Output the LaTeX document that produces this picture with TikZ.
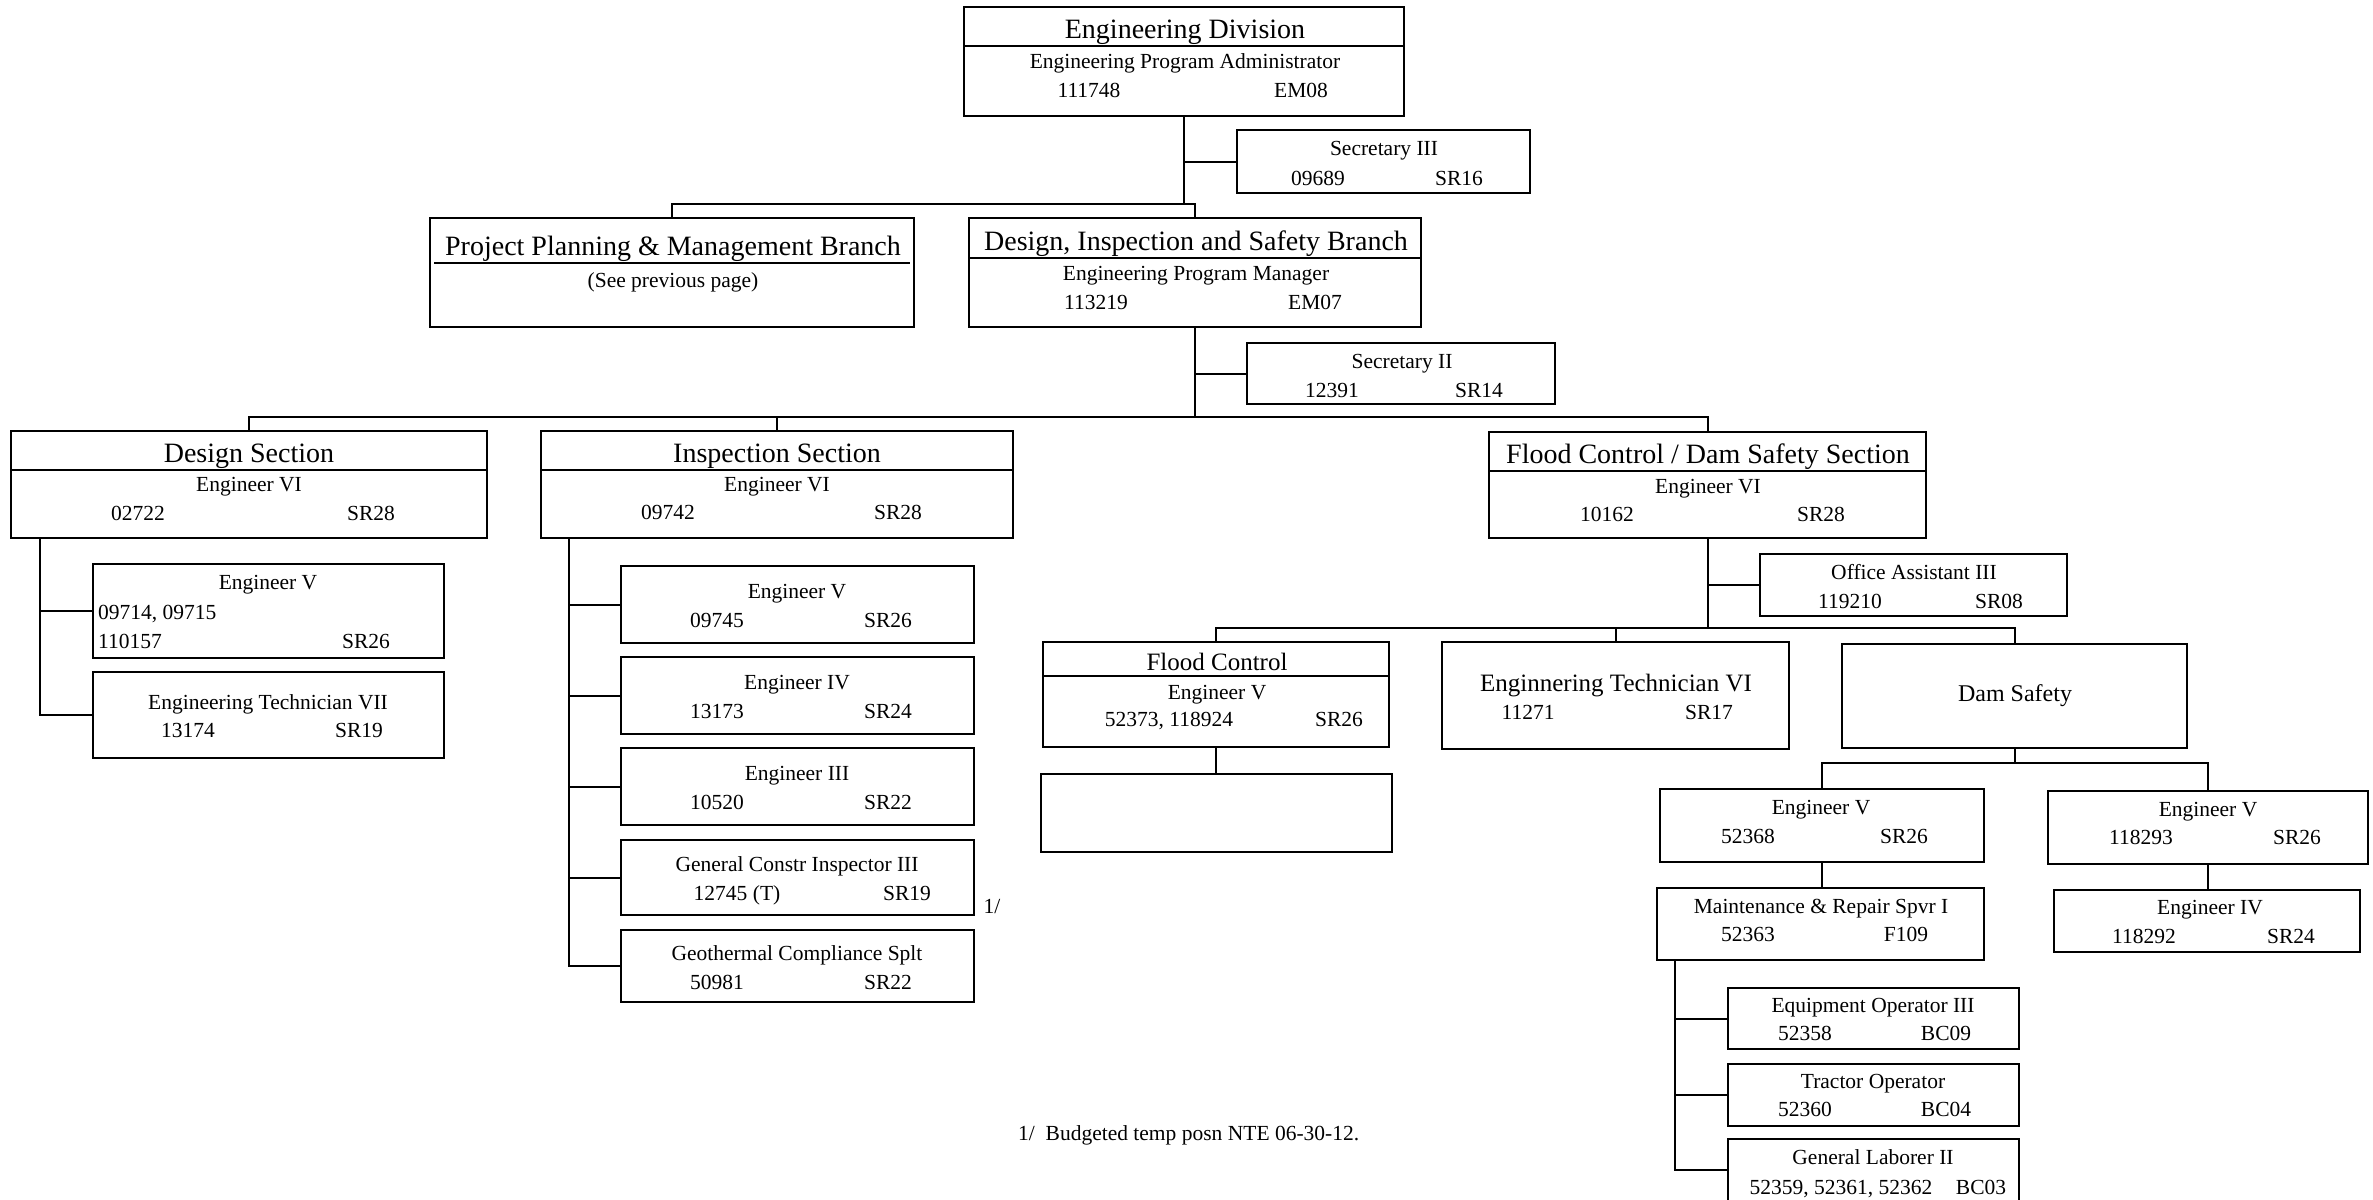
\documentclass[tikz,border=0pt]{standalone}
\usepackage{fontspec}
\setmainfont{Liberation Serif}
\tikzset{
  box/.style={draw, line width=2pt, rectangle, inner sep=0pt, outer sep=0pt},
  conn/.style={line width=2pt},
  ttl/.style={font=\fontsize{28}{30}\selectfont, anchor=base, inner sep=0pt},
  mt/.style={font=\fontsize{25}{27}\selectfont, anchor=base, inner sep=0pt},
  dt/.style={font=\fontsize{24}{26}\selectfont, anchor=base, inner sep=0pt},
  bt/.style={font=\fontsize{21.5}{23}\selectfont, anchor=base, inner sep=0pt},
  btl/.style={bt, anchor=base west},
}
\newcommand\bx[5]{%
  \pgfmathsetmacro\bxw{#4-#2}\pgfmathsetmacro\bxh{#5-#3}%
  \node[box, minimum width=\bxw pt, minimum height=\bxh pt] (#1) at ({(#2+#4)/2},{(#3+#5)/2}) {};}
\newcommand\divl[2]{\draw[conn] (#1.west |- 0,#2) -- (#1.east |- 0,#2);}
\begin{document}
\begin{tikzpicture}[x=1pt,y=-1pt]
\useasboundingbox (0,0) rectangle (2373,1199);
\clip (0,0) rectangle (2373,1199);
\fill[white] (0,0) rectangle (2373,1199);

% ---------- boxes ----------
\bx{ed}{964}{7}{1404}{116}
\bx{sec3}{1237}{130}{1530}{193}
\bx{ppmb}{430}{218}{914}{327}
\bx{disb}{969}{218}{1421}{327}
\bx{sec2}{1247}{343}{1555}{404}
\bx{des}{11}{431}{487}{538}
\bx{insp}{541}{431}{1013}{538}
\bx{fcds}{1489}{432}{1926}{538}
\bx{desv}{93}{564}{444}{658}
\bx{dest}{93}{672}{444}{758}
\bx{ia}{621}{566}{974}{643}
\bx{ib}{621}{657}{974}{734}
\bx{ic}{621}{748}{974}{825}
\bx{id}{621}{840}{974}{915}
\bx{ie}{621}{930}{974}{1002}
\bx{oa}{1760}{554}{2067}{616}
\bx{fc}{1043}{642}{1389}{747}
\bx{fce}{1041}{774}{1392}{852}
\bx{etvi}{1442}{642}{1789}{749}
\bx{ds}{1842}{644}{2187}{748}
\bx{eva}{1660}{789}{1984}{862}
\bx{evb}{2048}{791}{2368}{864}
\bx{efour}{2054}{890}{2360}{952}
\bx{mr}{1657}{888}{1984}{960}
\bx{eq}{1728}{988}{2019}{1049}
\bx{tr}{1728}{1064}{2019}{1126}
\bx{gl}{1728}{1139}{2019}{1201}

% ---------- dividers ----------
\divl{ed}{46}
\divl{disb}{258}
\divl{des}{470}
\divl{insp}{470}
\divl{fcds}{471}
\divl{fc}{676}
\draw[conn] ([xshift=4pt]ppmb.west |- 0,263) -- ([xshift=-4pt]ppmb.east |- 0,263);

% ---------- connectors ----------
\coordinate (busA) at (1185,204);
\draw[conn] (ed.south) -- (ed.south |- busA);
\draw[conn] (sec3.west) -- (sec3.west -| ed.south);
\draw[conn] (ppmb.north) -- (ppmb.north |- busA) -- (disb.north |- busA) -- (disb.north);

\coordinate (busB) at (1195,417);
\draw[conn] (disb.south) -- (disb.south |- busB);
\draw[conn] (sec2.west) -- (sec2.west -| disb.south);
\draw[conn] (des.north) -- (des.north |- busB) -- (fcds.north |- busB) -- (fcds.north);
\draw[conn] (insp.north) -- (insp.north |- busB);

\coordinate (dv) at (40,0);
\draw[conn] (des.south -| dv) -- (dest.west -| dv) -- (dest.west);
\draw[conn] (desv.west -| dv) -- (desv.west);

\coordinate (iv) at (569,0);
\draw[conn] (insp.south -| iv) -- (ie.west -| iv) -- (ie.west);
\foreach \n in {ia,ib,ic,id} { \draw[conn] (\n.west -| iv) -- (\n.west); }

\coordinate (busC) at (1707,628);
\draw[conn] (fcds.south) -- (fcds.south |- busC);
\draw[conn] (oa.west) -- (oa.west -| fcds.south);
\draw[conn] (fc.north) -- (fc.north |- busC) -- (ds.north |- busC) -- (ds.north);
\draw[conn] (etvi.north) -- (etvi.north |- busC);
\draw[conn] (fc.south) -- (fc.south |- fce.north);

\coordinate (busD) at (2015,763);
\draw[conn] (ds.south) -- (ds.south |- busD);
\draw[conn] (eva.north) -- (eva.north |- busD) -- (evb.north |- busD) -- (evb.north);
\draw[conn] (eva.south) -- (eva.south |- mr.north);
\draw[conn] (evb.south) -- (evb.south |- efour.north);

\coordinate (mv) at (1675,0);
\draw[conn] (mr.south -| mv) -- (gl.west -| mv) -- (gl.west);
\draw[conn] (eq.west -| mv) -- (eq.west);
\draw[conn] (tr.west -| mv) -- (tr.west);

% ---------- texts ----------
\node[ttl] (edT) at (1185,38) {Engineering Division};
\node[bt] (edA) at (1185,68) {Engineering Program Administrator};
\node[bt] (edN) at (1089,97) {111748};
\node[bt] (edG) at (1301,97) {EM08};

\node[bt] (s3A) at (1384,155) {Secretary III};
\node[bt] (s3N) at (1318,185) {09689};
\node[bt] (s3G) at (1459,185) {SR16};

\node[ttl] (ppT) at (673,255) {Project Planning \& Management Branch};
\node[bt] (ppA) at (673,287) {(See previous page)};

\node[ttl] (diT) at (1196,250) {Design, Inspection and Safety Branch};
\node[bt] (diA) at (1196,280) {Engineering Program Manager};
\node[bt] (diN) at (1096,309) {113219};
\node[bt] (diG) at (1315,309) {EM07};

\node[bt] (s2A) at (1402,368) {Secretary II};
\node[bt] (s2N) at (1332,397) {12391};
\node[bt] (s2G) at (1479,397) {SR14};

\node[ttl] (deT) at (249,462) {Design Section};
\node[bt] (deA) at (249,491) {Engineer VI};
\node[bt] (deN) at (138,520) {02722};
\node[bt] (deG) at (371,520) {SR28};

\node[bt] (dvA) at (268,589) {Engineer V};
\node[btl] (dvN) at (98,619) {09714, 09715};
\node[btl] (dvM) at (98,648) {110157};
\node[bt] (dvG) at (366,648) {SR26};

\node[bt] (dtA) at (268,709) {Engineering Technician VII};
\node[bt] (dtN) at (188,737) {13174};
\node[bt] (dtG) at (359,737) {SR19};

\node[ttl] (inT) at (777,462) {Inspection Section};
\node[bt] (inA) at (777,491) {Engineer VI};
\node[bt] (inN) at (668,519) {09742};
\node[bt] (inG) at (898,519) {SR28};

\node[bt] (iaA) at (797,598) {Engineer V};
\node[bt] (iaN) at (717,627) {09745};
\node[bt] (iaG) at (888,627) {SR26};
\node[bt] (ibA) at (797,689) {Engineer IV};
\node[bt] (ibN) at (717,718) {13173};
\node[bt] (ibG) at (888,718) {SR24};
\node[bt] (icA) at (797,780) {Engineer III};
\node[bt] (icN) at (717,809) {10520};
\node[bt] (icG) at (888,809) {SR22};
\node[bt] (idA) at (797,871) {General Constr Inspector III};
\node[bt] (idN) at (737,900) {12745 (T)};
\node[bt] (idG) at (907,900) {SR19};
\node[bt] (ieA) at (797,960) {Geothermal Compliance Splt};
\node[bt] (ieN) at (717,989) {50981};
\node[bt] (ieG) at (888,989) {SR22};
\node[bt] (fn1) at (992,913) {1/};

\node[ttl] (fdT) at (1708,463) {Flood Control / Dam Safety Section};
\node[bt] (fdA) at (1708,493) {Engineer VI};
\node[bt] (fdN) at (1607,521) {10162};
\node[bt] (fdG) at (1821,521) {SR28};

\node[bt] (oaA) at (1914,579) {Office Assistant III};
\node[bt] (oaN) at (1850,608) {119210};
\node[bt] (oaG) at (1999,608) {SR08};

\node[mt] (fcT) at (1217,670) {Flood Control};
\node[bt] (fcA) at (1217,699) {Engineer V};
\node[bt] (fcN) at (1169,726) {52373, 118924};
\node[bt] (fcG) at (1339,726) {SR26};

\node[mt] (etA) at (1616,691) {Enginnering Technician VI};
\node[bt] (etN) at (1528,719) {11271};
\node[bt] (etG) at (1709,719) {SR17};

\node[dt] (dsA) at (2015,701) {Dam Safety};

\node[bt] (evaA) at (1821,814) {Engineer V};
\node[bt] (evaN) at (1748,843) {52368};
\node[bt] (evaG) at (1904,843) {SR26};

\node[bt] (evbA) at (2208,816) {Engineer V};
\node[bt] (evbN) at (2141,844) {118293};
\node[bt] (evbG) at (2297,844) {SR26};

\node[bt] (e4A) at (2210,914) {Engineer IV};
\node[bt] (e4N) at (2144,943) {118292};
\node[bt] (e4G) at (2291,943) {SR24};

\node[bt] (mrA) at (1821,913) {Maintenance \& Repair Spvr I};
\node[bt] (mrN) at (1748,941) {52363};
\node[bt] (mrG) at (1906,941) {F109};

\node[bt] (eqA) at (1873,1012) {Equipment Operator III};
\node[bt] (eqN) at (1805,1040) {52358};
\node[bt] (eqG) at (1946,1040) {BC09};

\node[bt] (trA) at (1873,1088) {Tractor Operator};
\node[bt] (trN) at (1805,1116) {52360};
\node[bt] (trG) at (1946,1116) {BC04};

\node[bt] (glA) at (1873,1164) {General Laborer II};
\node[bt] (glN) at (1841,1194) {52359, 52361, 52362};
\node[bt] (glG) at (1981,1194) {BC03};

\node[btl] (foot) at (1018,1140) {1/\ \ Budgeted temp posn NTE 06-30-12.};
\end{tikzpicture}
\end{document}
